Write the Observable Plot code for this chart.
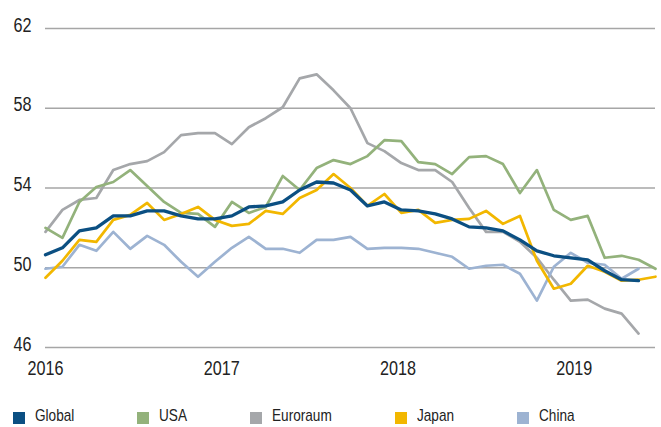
<!DOCTYPE html>
<html>
<head>
<meta charset="utf-8">
<script src="https://cdn.jsdelivr.net/npm/d3@7"></script>
<script src="https://cdn.jsdelivr.net/npm/@observablehq/plot@0.6"></script>
<style>
  html, body { margin: 0; padding: 0; background: #fff; }
  #chart svg { display: block; }
  .legend { display: flex; align-items: flex-start; margin-top: 6px; padding-left: 13px; height: 21px;
    font-family: "Liberation Sans", Arial, sans-serif; font-size: 17px; line-height: 20px; color: #222; }
  .legend .item { display: flex; align-items: flex-start; margin-right: 63px; }
  .legend .sw { width: 12px; height: 12px; margin-top: 5.5px; margin-right: 10px; flex: none; }
  .legend .txt { display: inline-block; transform: scaleX(0.8); transform-origin: left center; white-space: nowrap; }
</style>
</head>
<body>
<div id="chart"></div>
<script>
// Data (monthly index positions 0..36)
const seriesNames = ["Global", "USA", "Euroraum", "Japan", "China"];
const seriesColors = ["#0b4f82", "#93b27b", "#a5a7aa", "#f2b700", "#9db3d2"];

const global = [50.65, 51.0, 51.85, 52.0, 52.6, 52.6, 52.85, 52.85, 52.6, 52.45, 52.45, 52.6, 53.05, 53.1, 53.3, 53.9, 54.3, 54.25, 53.9, 53.1, 53.3, 52.9, 52.85, 52.7, 52.45, 52.05, 52.0, 51.85, 51.4, 50.85, 50.6, 50.5, 50.4, 49.85, 49.4, 49.35];
const usa = [52.0, 51.5, 53.3, 54.05, 54.3, 54.9, 54.1, 53.3, 52.75, 52.7, 52.05, 53.3, 52.75, 53.05, 54.6, 53.9, 55.0, 55.4, 55.2, 55.6, 56.4, 56.35, 55.3, 55.2, 54.7, 55.55, 55.6, 55.2, 53.75, 54.9, 52.9, 52.4, 52.6, 50.5, 50.6, 50.4, 49.95];
const euroraum = [51.8, 52.9, 53.4, 53.5, 54.9, 55.2, 55.35, 55.8, 56.65, 56.75, 56.75, 56.2, 57.05, 57.5, 58.05, 59.5, 59.7, 58.9, 58.0, 56.25, 55.85, 55.25, 54.9, 54.9, 54.3, 53.0, 51.8, 51.8, 51.3, 50.5, 49.4, 48.35, 48.4, 47.95, 47.7, 46.7];
const japan = [49.5, 50.35, 51.4, 51.3, 52.4, 52.65, 53.25, 52.4, 52.7, 53.05, 52.4, 52.1, 52.2, 52.85, 52.7, 53.5, 53.9, 54.7, 54.0, 53.1, 53.7, 52.75, 52.9, 52.25, 52.4, 52.45, 52.85, 52.2, 52.6, 50.35, 48.95, 49.2, 50.1, 49.8, 49.35, 49.4, 49.55];
const china = [49.95, 50.05, 51.15, 50.85, 51.8, 50.95, 51.6, 51.15, 50.3, 49.55, 50.3, 51.0, 51.55, 50.95, 50.95, 50.75, 51.4, 51.4, 51.55, 50.95, 51.0, 51.0, 50.95, 50.75, 50.55, 49.95, 50.1, 50.15, 49.7, 48.35, 50.05, 50.75, 50.25, 50.15, 49.45, 49.95];

const yTicks = [46, 50, 54, 58, 62];
const xTickLabels = ["2016", "2017", "2018", "2019"];
const xTickPositions = [0, 10.4, 20.8, 31.2];

const valuesByName = { Global: global, USA: usa, Euroraum: euroraum, Japan: japan, China: china };
const drawOrder = ["Euroraum", "USA", "China", "Japan", "Global"];
const font = '"Liberation Sans", Arial, sans-serif';

const lineMarks = drawOrder.map(name => {
  const vals = valuesByName[name];
  const data = vals.map((v, i) => ({ i, v }));
  return Plot.line(data, {
    x: "i", y: "v",
    stroke: seriesColors[seriesNames.indexOf(name)],
    strokeWidth: name === "Global" ? 3.3 : 2.7,
    strokeLinejoin: "round"
  });
});

const chart = Plot.plot({
  width: 661,
  height: 400,
  marginLeft: 45,
  marginRight: 6,
  marginTop: 28,
  marginBottom: 53,
  style: { fontFamily: font, background: "#fff" },
  x: { type: "linear", domain: [0, 36] },
  y: { domain: [46, 62] },
  marks: [
    Plot.gridY(yTicks, { stroke: "#a6a6a6", strokeOpacity: 1, strokeWidth: 1.6 }),
    Plot.axisY(yTicks, { tickSize: 0, tickPadding: 14, fontSize: 19.5, dy: -3, fill: "#222", label: null, className: "sq-y" }),
    Plot.axisX(xTickPositions, {
      tickSize: 0, tickPadding: 14, fontSize: 19.5, fill: "#222", label: null, className: "sq-x",
      tickFormat: d => xTickLabels[xTickPositions.indexOf(d)]
    }),
    ...lineMarks
  ]
});
// squeeze tick label glyphs horizontally around their anchor point (condensed look)
chart.querySelectorAll(".sq-y text, .sq-x text").forEach(t => {
  const tr = t.getAttribute("transform") || "";
  t.setAttribute("transform", (tr + " scale(0.83,1)").trim());
});
document.getElementById("chart").appendChild(chart);

const legend = document.createElement("div");
legend.className = "legend";
seriesNames.forEach((name, k) => {
  const item = document.createElement("div");
  item.className = "item";
  const sw = document.createElement("span");
  sw.className = "sw";
  sw.style.background = seriesColors[k];
  const label = document.createElement("span");
  label.className = "txt";
  label.textContent = name;
  item.appendChild(sw);
  item.appendChild(label);
  legend.appendChild(item);
});
document.getElementById("chart").appendChild(legend);
// compensate layout width for the horizontal squeeze of legend labels
legend.querySelectorAll(".txt").forEach(el => {
  const w = el.getBoundingClientRect().width / 0.8;
  el.style.marginRight = (-(1 - 0.8) * w) + "px";
});
</script>
</body>
</html>
